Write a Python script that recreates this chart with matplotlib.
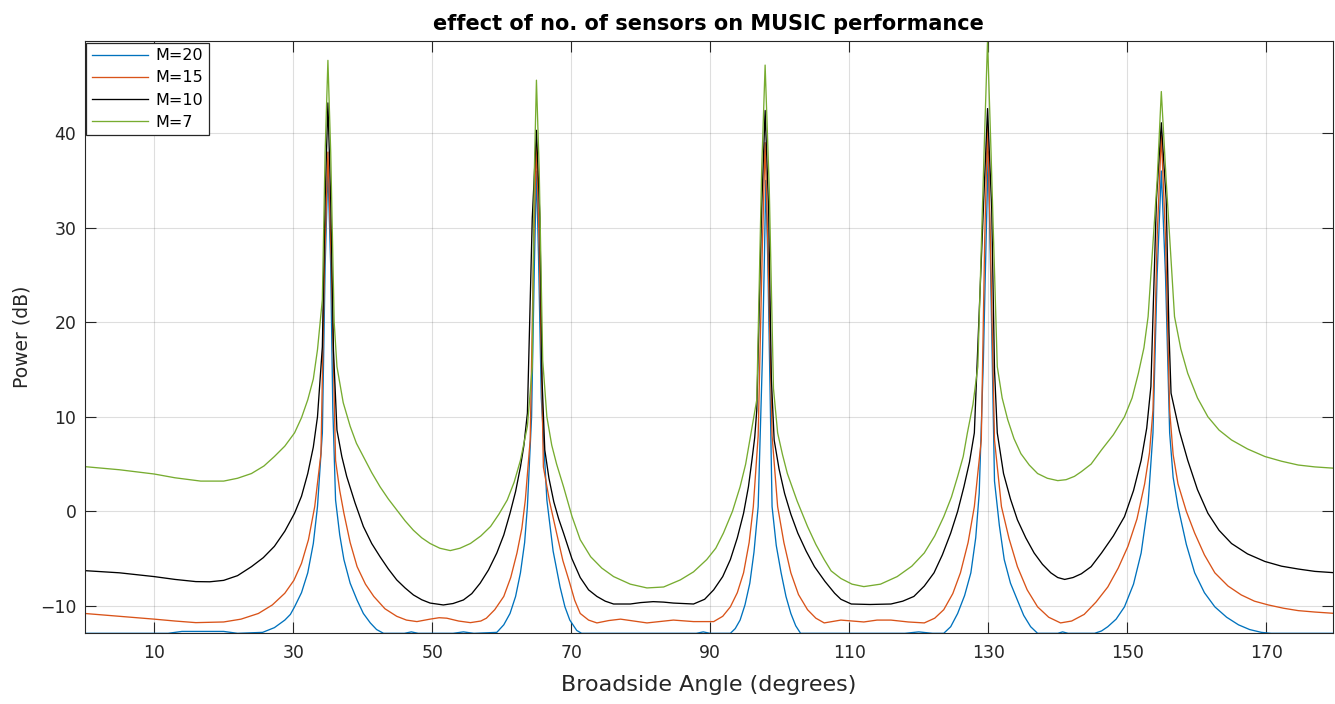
import matplotlib
matplotlib.use("Agg")
import matplotlib.pyplot as plt

# ---------------- data ----------------
angles_m20 = [0, 12, 14, 20, 22, 25.6, 27.3, 28.8, 29.6, 30.2, 31.2, 32.1, 32.9, 33.5, 34.2, 34.6, 35.0, 35.4, 35.7,
              36.1, 36.7, 37.3, 38.2, 39.2, 40.1, 41.1, 42, 43, 46, 47, 48, 53, 54.5, 56, 59.3, 60.3, 61.2, 62,
              62.7, 63.3, 63.7, 64.3, 64.7, 65.0, 65.3, 65.7, 66.5, 67.4, 68.4, 69.1, 69.8, 70.8, 71.5, 88, 89,
              90, 92.9, 93.6, 94.3, 95, 95.7, 96.3, 96.9, 97.5, 97.8, 98.0, 98.3, 98.9, 99.5, 100.2, 100.9, 101.6,
              102.3, 103, 118, 120, 122, 123.6, 124.6, 125.6, 126.6, 127.5, 128.2, 128.7, 129.3, 129.7, 130.0,
              130.3, 130.9, 131.6, 132.3, 133.2, 134.2, 135.1, 136.1, 137.1, 140, 140.7, 141.5, 145.3, 146.3,
              147.2, 148.4, 149.6, 150.9, 152, 153, 153.7, 154.3, 154.9, 155.5, 156.1, 156.6, 157.3, 158.5,
              159.7, 161.1, 162.6, 164.3, 166, 167.6, 169.3, 170.7, 180]
power_m20 = [-12.9, -12.9, -12.7, -12.7, -12.9, -12.8, -12.3, -11.5, -10.9, -10.1, -8.6, -6.5, -3.4, 0.5, 8.3, 26, 36.3, 26, 11,
             1.2, -2.5, -5.1, -7.6, -9.4, -10.8, -11.8, -12.5, -12.9, -12.9, -12.75, -12.9, -12.9, -12.75, -12.9, -12.8, -12.0, -10.8, -9.0,
             -6.5, -3.3, 0.5, 10, 26, 36, 27, 12, 1.2, -4.2, -8.0, -10.1, -11.5, -12.6, -12.9, -12.9, -12.75,
             -12.9, -12.9, -12.4, -11.5, -9.9, -7.6, -4.3, 0.5, 16, 27, 35, 26, 0.5, -3.6, -6.5, -9.0, -10.8,
             -12.1, -12.9, -12.9, -12.75, -12.9, -12.9, -12.2, -10.8, -8.9, -6.5, -2.8, 1.9, 16, 29, 38,
             27, 3.2, -1.5, -5.1, -7.6, -9.4, -11.0, -12.2, -12.9, -12.9, -12.75, -12.9, -12.9, -12.65,
             -12.2, -11.4, -10.1, -7.7, -4.4, 0.8, 8.3, 25, 36, 25, 8.3, 3.6, 0.5, -3.5,
             -6.5, -8.6, -10.1, -11.2, -12.0, -12.5, -12.8, -12.9, -12.9]

angles_m15 = [0, 5, 10, 13, 16, 20, 22.5, 25, 27, 28.8, 30.1, 31.2, 32.2, 33.1, 34.0, 34.5, 35.0, 35.5, 36.1, 36.7,
              37.3, 38.2, 39.2, 40.4, 41.6, 43.2, 44.9, 46.3, 47.8, 49.7, 51, 52.1, 53.8, 55.5, 57, 57.8, 59, 60.3,
              61.3, 62.2, 62.9, 63.4, 64.1, 64.6, 65.0, 65.4, 66.0, 66.9, 67.9, 68.8, 69.8, 70.5, 71.3, 72.5,
              73.7, 75.4, 77.1, 79, 80.9, 82.8, 84.7, 87.6, 90.5, 91.8, 92.9, 93.9, 94.8, 95.6, 96.2, 96.9, 97.5,
              97.9, 98.3, 98.9, 99.7, 100.6, 101.6, 102.7, 104, 105.2, 106.4, 108.8, 110.5, 112.1, 114, 116,
              118.5, 120.8, 122.3, 123.6, 124.9, 126, 127.1, 128, 129, 129.5, 129.9, 130.3, 130.9, 131.9, 133,
              134.2, 135.6, 137.1, 138.7, 140.4, 142, 143.8, 145.5, 147.2, 148.7, 150.1, 151.4, 152.5, 153.2,
              153.7, 154.3, 154.9, 155.5, 156.1, 156.6, 157.3, 158.5, 159.7, 161.1, 162.6, 164.5, 166.4, 168.3,
              170.3, 172.5, 174.6, 177, 180]
power_m15 = [-10.8, -11.1, -11.4, -11.6, -11.77, -11.7, -11.4, -10.8, -9.9, -8.66, -7.3, -5.5, -3.0, 0.5, 6.1, 26, 38, 26, 5.4, 2.2,
             -0.2, -3.3, -5.85, -7.7, -9.0, -10.3, -11.1, -11.5, -11.66, -11.4, -11.25, -11.3, -11.6, -11.77, -11.6, -11.3, -10.4, -9.0,
             -7.0, -4.4, -1.8, 1.2, 7.55, 28, 39, 28, 4.7, 1.0, -2.3, -5.2, -7.6, -9.4, -10.8, -11.5,
             -11.8, -11.55, -11.4, -11.6, -11.8, -11.65, -11.5, -11.66, -11.66, -11.1, -10.1, -8.6, -6.5, -3.3, 0.5, 8, 28,
             39, 28, 8, 0.5, -3.3, -6.5, -8.8, -10.4, -11.3, -11.8, -11.5, -11.6, -11.7, -11.5, -11.5,
             -11.7, -11.8, -11.3, -10.4, -8.7, -6.5, -3.3, 0.5, 7.55, 29, 40.8, 29, 7.55, 0.5, -2.9,
             -5.85, -8.3, -10.1, -11.2, -11.8, -11.6, -10.9, -9.6, -8.0, -6.0, -3.7, -0.8, 2.9, 6.2,
             10.7, 29, 39.8, 29, 10.7, 6.0, 2.9, 0.0, -2.3, -4.6, -6.5, -7.9, -8.84, -9.5,
             -9.9, -10.25, -10.5, -10.65, -10.8]

angles_m10 = [0, 5, 10, 13, 16, 18, 20, 22, 24, 25.7, 27.3, 28.8, 30.2, 31.2, 32.1, 32.9, 33.5, 34.2, 34.6, 35.0,
              35.4, 35.8, 36.3, 37.0, 37.7, 38.9, 40.1, 41.3, 42.5, 43.7, 44.9, 46.1, 47.3, 48.5, 49.7, 51.6, 53,
              54.5, 55.7, 56.9, 58.1, 59.3, 60.3, 61.2, 62, 62.7, 63.2, 63.7, 64.4, 65.0, 65.5, 65.8, 66.2, 66.8,
              67.5, 68.2, 68.9, 70.1, 71.3, 72.5, 73.7, 74.9, 76.1, 78.5, 80, 81.8, 83.3, 84.7, 87.6, 89.2, 90.5,
              91.8, 92.9, 93.9, 94.8, 95.5, 96.0, 96.4, 96.7, 97.4, 97.9, 98.4, 98.8, 99.2, 99.9, 100.7, 101.6,
              102.6, 103.8, 105, 106.5, 107.9, 108.8, 110.3, 113, 116, 117.7, 119.3, 120.8, 122.2, 123.4, 124.6,
              125.6, 126.5, 127.3, 128, 129.3, 129.9, 130.5, 130.9, 131.3, 132.2, 133.2, 134.2, 135.4, 136.6,
              137.8, 139, 140, 141, 142.2, 143.4, 144.8, 146.3, 148, 149.6, 150.9, 152, 152.8, 153.4, 154.2,
              154.9, 155.6, 156.0, 156.3, 157.5, 158.7, 160.1, 161.6, 163.2, 165, 167.3, 169.8, 172.2, 174.6,
              177, 180]
power_m10 = [-6.27, -6.5, -6.9, -7.2, -7.43, -7.45, -7.3, -6.8, -5.85, -4.9, -3.7, -2.1, -0.2, 1.6, 4.0, 6.8, 10, 17.4, 33, 43.2,
             33, 17, 8.6, 5.8, 3.7, 0.9, -1.6, -3.4, -4.8, -6.1, -7.25, -8.1, -8.84, -9.35, -9.7, -9.9, -9.75,
             -9.37, -8.7, -7.6, -6.2, -4.4, -2.5, -0.2, 2.1, 4.7, 7.0, 10.4, 31, 40.3, 31, 14, 6.5, 3.5,
             1.0, -0.8, -2.3, -5.0, -7.0, -8.3, -9.0, -9.5, -9.8, -9.8, -9.65, -9.55, -9.6, -9.7, -9.8, -9.3, -8.3,
             -6.9, -5.1, -2.8, -0.2, 2.6, 5.4, 7.8, 10.7, 32, 42.4, 32, 14, 7.55, 4.5, 1.9, -0.3,
             -2.3, -4.2, -5.85, -7.4, -8.66, -9.3, -9.8, -9.85, -9.8, -9.5, -9.0, -7.9, -6.5, -4.6, -2.3,
             0.0, 2.6, 5.2, 8.3, 32, 42.6, 32, 15, 8.3, 4.0, 1.3, -0.9, -2.8, -4.4,
             -5.6, -6.5, -7.0, -7.2, -7.0, -6.6, -5.85, -4.4, -2.6, -0.56, 2.2, 5.4, 8.8, 13.2, 33,
             41.1, 33, 19, 12.5, 8.5, 5.4, 2.3, -0.2, -2.0, -3.4, -4.5, -5.3, -5.8, -6.1,
             -6.35, -6.5]

angles_m7 = [0, 5, 10, 13, 16.7, 20, 22, 24, 25.8, 27.3, 28.8, 30.2, 31.2, 32.1, 32.9, 33.5, 34.2, 34.6, 35.0, 35.4,
             35.9, 36.3, 37.2, 38.2, 39.1, 40.1, 41.3, 42.5, 43.7, 44.9, 46.1, 47.3, 48.5, 49.7, 51.1, 52.6, 54,
             55.5, 57, 58.4, 59.6, 60.8, 61.8, 62.7, 63.7, 64.4, 64.7, 65.0, 65.4, 65.9, 66.5, 67.2, 67.9, 68.9,
             70.1, 71.3, 72.8, 74.4, 76.1, 78.5, 80.9, 83.3, 85.7, 87.6, 89.5, 90.8, 91.9, 93.2, 94.3, 95.1, 95.7,
             96.7, 97.4, 97.9, 98.5, 99.1, 99.7, 100.4, 101.1, 102.5, 104, 105.2, 106.4, 107.4, 108.8, 110.4,
             112.1, 114.5, 116.9, 119, 120.8, 122.3, 123.6, 124.7, 125.6, 126.4, 127, 127.8, 128.5, 129.4, 129.9,
             130.4, 131.3, 132, 132.8, 133.7, 134.7, 135.9, 137.1, 138.5, 140, 141.2, 142.4, 143.4, 144.8, 146.3,
             148, 149.6, 150.7, 151.6, 152.4, 153, 154.3, 154.9, 155.6, 156.8, 157.7, 158.7, 160.1, 161.6, 163.2,
             165, 167.3, 169.8, 172.2, 174.6, 177, 180]
power_m7 = [4.73, 4.4, 3.95, 3.55, 3.2, 3.2, 3.5, 4.0, 4.8, 5.8, 6.9, 8.3, 9.9, 11.8, 14.0, 17.1, 22.4, 38, 47.7, 38,
            20, 15.3, 11.5, 9.0, 7.2, 5.8, 4.1, 2.6, 1.3, 0.15, -1.0, -2.0, -2.8, -3.4, -3.9, -4.15, -3.9,
            -3.4, -2.6, -1.6, -0.3, 1.2, 3.1, 5.4, 9.0, 15.3, 36, 45.6, 36, 16, 10, 7.0, 5.0, 2.6,
            -0.5, -3.0, -4.8, -6.0, -6.9, -7.7, -8.1, -8.0, -7.25, -6.4, -5.1, -3.9, -2.3, 0.0, 2.6, 5.0, 7.55,
            11.8, 36, 47.2, 34, 13, 8.3, 6.0, 4.0, 1.1, -1.6, -3.5, -5.1, -6.3, -7.1, -7.7,
            -7.96, -7.7, -6.9, -5.8, -4.4, -2.6, -0.56, 1.5, 3.7, 5.8, 8.3, 11.3, 15.3, 38, 49.8,
            38, 15.3, 12.0, 9.7, 7.7, 6.1, 4.9, 4.0, 3.5, 3.25, 3.35, 3.7, 4.2, 5.0, 6.5,
            8.1, 10, 12.0, 14.6, 17.3, 20.6, 35, 44.4, 35, 20.6, 17.2, 14.6, 12.0, 10, 8.6,
            7.55, 6.6, 5.8, 5.3, 4.9, 4.7, 4.55]

series_labels = ["M=20", "M=15", "M=10", "M=7"]
x_ticks = [10, 30, 50, 70, 90, 110, 130, 150, 170]
y_ticks = [-10, 0, 10, 20, 30, 40]

# ---------------- styling ----------------
colors = ["#0072BD", "#D95319", "#000000", "#77AC30"]
axis_col = "#262626"
plt.rcParams["font.family"] = ["DejaVu Sans"]

fig = plt.figure(figsize=(13.35, 7.04), dpi=100)
ax = fig.add_axes([0.0634, 0.1004, 0.9351, 0.8414])

series = [(angles_m20, power_m20), (angles_m15, power_m15),
          (angles_m10, power_m10), (angles_m7, power_m7)]
for (xs, ys), c, lab in zip(series, colors, series_labels):
    ax.plot(xs, ys, color=c, lw=0.95, label=lab)

ax.set_xlim(0, 179.6)
ax.set_ylim(-12.9, 49.75)
ax.set_xticks(x_ticks)
ax.set_yticks(y_ticks)
ax.grid(True, color=axis_col, alpha=0.15, lw=0.8)
ax.set_axisbelow(True)
ax.tick_params(direction="in", length=8, width=0.8, colors=axis_col,
               top=True, right=True, labelsize=12.4)
ax.tick_params(axis="x", pad=8)
ax.tick_params(axis="y", pad=6)
for sp in ax.spines.values():
    sp.set_color(axis_col)
    sp.set_linewidth(0.8)

ax.set_title("effect of no. of sensors on MUSIC performance", fontsize=15,
             fontweight="bold", color="black", pad=8)
ax.set_xlabel("Broadside Angle (degrees)", fontsize=16, color=axis_col, labelpad=9)
ax.set_ylabel("Power (dB)", fontsize=13.5, color=axis_col, labelpad=6)

leg = ax.legend(loc="upper left", bbox_to_anchor=(0.0, 1.0), borderaxespad=0.1,
                fontsize=11.5, frameon=True, fancybox=False, handlelength=3.5,
                labelspacing=0.45, borderpad=0.35, handletextpad=0.5)
leg.get_frame().set_edgecolor("#262626")
leg.get_frame().set_linewidth(0.9)
leg.get_frame().set_alpha(1.0)

fig.savefig("out.png", dpi=100)
